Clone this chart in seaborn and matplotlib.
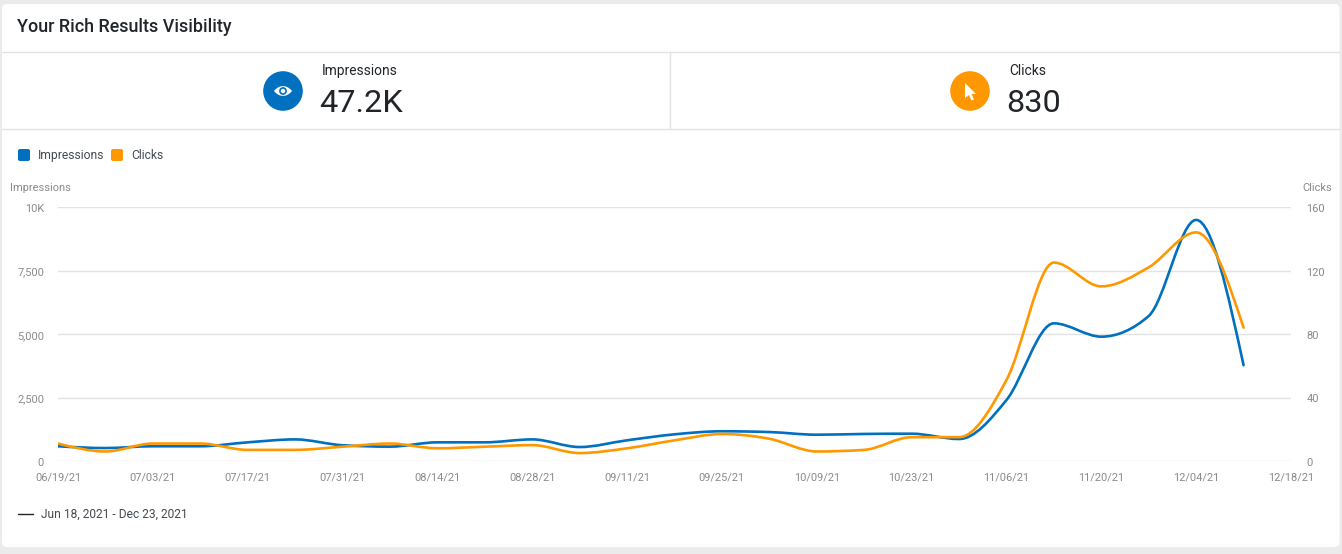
import numpy as np
import pandas as pd
import matplotlib
matplotlib.use("Agg")
import matplotlib.pyplot as plt
import matplotlib.dates as mdates
from matplotlib.patches import Circle, FancyBboxPatch, PathPatch, Polygon
from matplotlib.path import Path
from matplotlib.transforms import ScaledTranslation
import seaborn as sns

# values, one point per week
week_start = "2021-06-19"
impressions = [580, 510, 580, 580, 735, 850, 620, 565, 735, 735, 850, 550, 815,
               1050, 1170, 1140, 1035, 1065, 1075, 865, 2400, 5420, 4895, 5710, 9490, 3770]
clicks = [11, 6, 11, 11, 7, 7, 9, 11, 8, 9, 10, 5, 8,
          13, 17, 14, 6, 7, 15, 15, 51, 125, 110, 122, 144, 84]

date_ticks = ["06/19/21", "07/03/21", "07/17/21", "07/31/21", "08/14/21", "08/28/21", "09/11/21",
              "09/25/21", "10/09/21", "10/23/21", "11/06/21", "11/20/21", "12/04/21", "12/18/21"]
left_ticks = [0, 2500, 5000, 7500, 10000]
left_labels = ["0", "2,500", "5,000", "7,500", "10K"]
right_ticks = [0, 40, 80, 120, 160]

BLUE = "#0070bf"
ORANGE = "#ff9800"
GRID = "#e3e3e6"
MUTED = "#8a8a8f"
DARK = "#212529"
W, H = 1342, 554


def monotone_curve(x, y):
    """Bezier path through the points, same shape as a monotone spline"""
    x, y = np.asarray(x, float), np.asarray(y, float)
    h = np.diff(x)
    s = np.diff(y) / h
    t = np.zeros(len(x))
    for i in range(1, len(x) - 1):
        p = (s[i - 1] * h[i] + s[i] * h[i - 1]) / (h[i - 1] + h[i])
        t[i] = (np.sign(s[i - 1]) + np.sign(s[i])) * min(abs(s[i - 1]), abs(s[i]), 0.5 * abs(p))
    t[0] = (3 * s[0] - t[1]) / 2
    t[-1] = (3 * s[-1] - t[-2]) / 2
    verts = [(x[0], y[0])]
    codes = [Path.MOVETO]
    for i in range(len(h)):
        verts += [(x[i] + h[i] / 3, y[i] + t[i] * h[i] / 3),
                  (x[i + 1] - h[i] / 3, y[i + 1] - t[i + 1] * h[i] / 3),
                  (x[i + 1], y[i + 1])]
        codes += [Path.CURVE4] * 3
    return Path(verts, codes)


def draw_series(ax, data, column, color):
    sns.lineplot(data=data, x="date", y=column, ax=ax, color=color, errorbar=None)
    line = ax.lines[-1]
    xy = line.get_xydata()
    line.set_visible(False)
    ax.add_patch(PathPatch(monotone_curve(xy[:, 0], xy[:, 1]), fill=False, edgecolor=color,
                           linewidth=1.9, capstyle="round", joinstyle="round", zorder=3))


def swatch(ax, x, y, color):
    ax.add_patch(FancyBboxPatch((x + 2, y + 2), 8, 8, boxstyle="round,pad=2,rounding_size=2",
                                facecolor=color, edgecolor="none"))


sns.set_theme(style="white")
plt.rcParams["font.family"] = ["Roboto", "DejaVu Sans"]

df = pd.DataFrame({"date": pd.date_range(week_start, periods=len(impressions), freq="7D"),
                   "impressions": impressions, "clicks": clicks})

fig = plt.figure(figsize=(W / 100, H / 100), dpi=100, facecolor="#ebebeb")

# card, separators and the two headline blocks, in pixel coordinates
bg = fig.add_axes([0, 0, 1, 1], zorder=0)
bg.set_xlim(0, W)
bg.set_ylim(H, 0)
bg.axis("off")
bg.add_patch(FancyBboxPatch((2, 4), 1337.5, 543, boxstyle="round,pad=0,rounding_size=5",
                            facecolor="white", edgecolor="none"))
for y in [52, 129]:
    bg.plot([2, 1339], [y, y], color=GRID, lw=1)
bg.plot([670, 670], [52, 129], color=GRID, lw=1)

bg.text(17, 27.5, "Your Rich Results Visibility", fontsize=12.9, weight="medium", color=DARK, va="center")

# eye icon
bg.add_patch(Circle((283, 91), 19.8, color=BLUE, lw=0))
eye = Path([(274, 91), (279, 84.5), (287, 84.5), (292, 91), (287, 97.5), (279, 97.5), (274, 91)],
           [Path.MOVETO, Path.CURVE4, Path.CURVE4, Path.CURVE4, Path.CURVE4, Path.CURVE4, Path.CURVE4])
bg.add_patch(PathPatch(eye, facecolor="white", edgecolor="none"))
bg.add_patch(Circle((283, 91), 3.2, color=BLUE))
bg.add_patch(Circle((283, 91), 1.5, color="white"))
bg.text(322, 71, "Impressions", fontsize=9.9, color=DARK, va="center")
bg.text(319, 104, "47.2K", fontsize=23.4, color=DARK, va="center")

# cursor icon
bg.add_patch(Circle((970, 91), 19.8, color=ORANGE, lw=0))
bg.add_patch(Polygon([(965, 83), (976, 94), (971.5, 94), (974, 99.5), (971.5, 100.5), (969, 95), (965, 98)],
                     closed=True, facecolor="white", edgecolor="none"))
bg.text(1009, 71, "Clicks", fontsize=9.9, color=DARK, va="center")
bg.text(1006, 104, "830", fontsize=23.4, color=DARK, va="center")

# date range key under the chart
bg.plot([18, 33], [513.5, 513.5], color=DARK, lw=1)
bg.text(41, 514, "Jun 18, 2021 - Dec 23, 2021", fontsize=8.65, color="#444a50", va="center")

# chart axes: 0 at y=461, top at y=207, x from 58 to 1291
ax = fig.add_axes([58 / W, 1 - 461 / H, (1291 - 58) / W, (461 - 207) / H], zorder=1)
ax.patch.set_alpha(0)
ax2 = ax.twinx()
ax2.patch.set_alpha(0)

draw_series(ax, df, "impressions", BLUE)
draw_series(ax2, df, "clicks", ORANGE)

ax.set_xlim(pd.Timestamp("2021-06-19"), pd.Timestamp("2021-12-18"))
ax.set_ylim(0, 10000)
ax2.set_ylim(0, 160)

ax.set_xticks(pd.to_datetime(date_ticks, format="%m/%d/%y"))
ax.xaxis.set_major_formatter(mdates.DateFormatter("%m/%d/%y"))
ax.set_yticks(left_ticks, left_labels)
ax2.set_yticks(right_ticks)
ax.grid(axis="y", color=GRID, lw=1)
ax2.grid(False)
ax.set_axisbelow(True)

ax.set_xlabel("")
ax.set_ylabel("")
ax2.set_xlabel("")
ax2.set_ylabel("")
for a in (ax, ax2):
    sns.despine(ax=a, left=True, right=True, top=True, bottom=True)
ax.tick_params(axis="x", length=0, pad=8, labelsize=7.9, labelcolor=MUTED)
ax.tick_params(axis="y", length=0, pad=10, labelsize=7.9, labelcolor=MUTED)
ax2.tick_params(axis="y", length=0, pad=11, labelsize=7.9, labelcolor=MUTED)

# y labels sit one pixel lower in the original
down = ScaledTranslation(0, -1 / 100, fig.dpi_scale_trans)
for label in ax.get_yticklabels() + ax2.get_yticklabels():
    label.set_transform(label.get_transform() + down)

bg.text(10, 188, "Impressions", fontsize=7.9, color=MUTED, va="center")
bg.text(1332, 188, "Clicks", fontsize=7.9, color=MUTED, va="center", ha="right")

# legend
swatch(bg, 18, 149, BLUE)
bg.text(38, 155.5, "Impressions", fontsize=8.7, color="#444a50", va="center")
swatch(bg, 111, 149, ORANGE)
bg.text(131, 155.5, "Clicks", fontsize=8.7, color="#444a50", va="center")

fig.savefig("out.png", dpi=100, facecolor=fig.get_facecolor())
